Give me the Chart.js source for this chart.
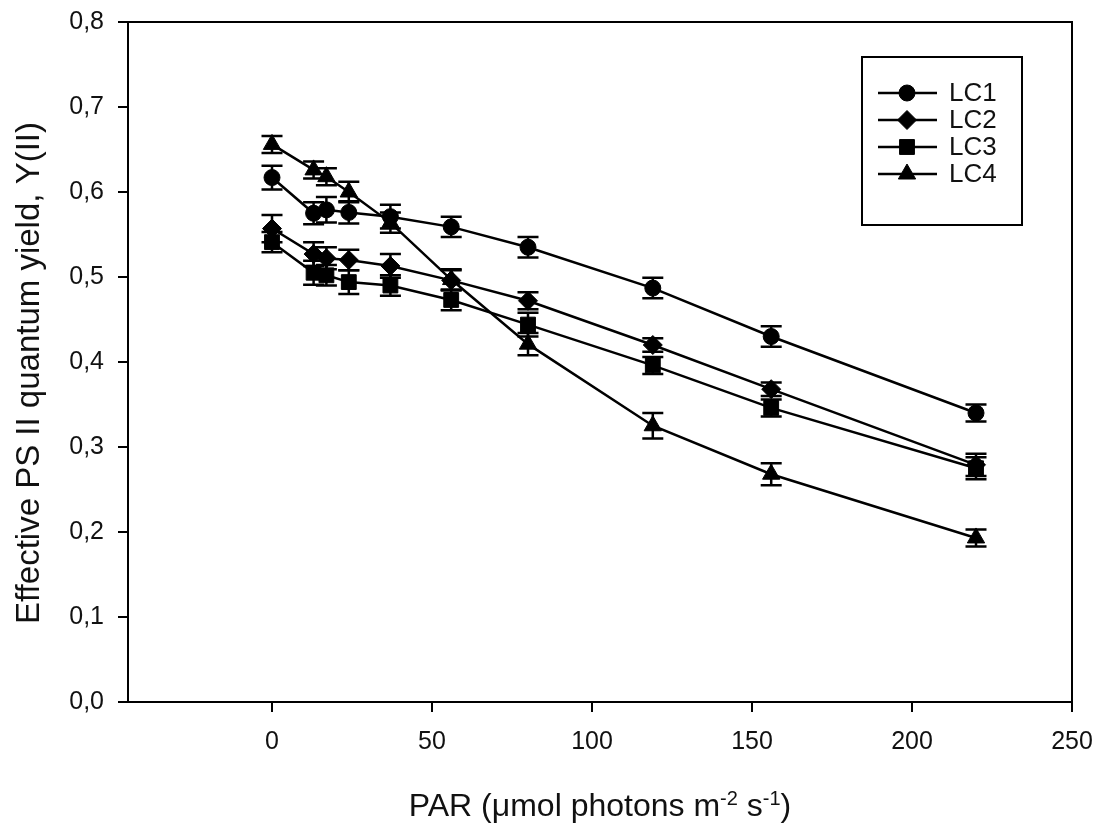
<!DOCTYPE html>
<html>
<head>
<meta charset="utf-8">
<script src="https://cdn.jsdelivr.net/npm/chart.js@4.4.0/dist/chart.umd.min.js"></script>
<style>
  body { margin: 0; background: #fff; }
  canvas { display: block; }
</style>
</head>
<body>
<canvas id="yieldChart" width="1102" height="831"></canvas>
<script>
// PAR steps (µmol photons m-2 s-1)
const par = [0, 13, 17, 24, 37, 56, 80, 119, 156, 220];

// Y(II) per light curve
const lc1 = [0.617, 0.575, 0.579, 0.576, 0.571, 0.559, 0.535, 0.487, 0.430, 0.340];
const lc2 = [0.557, 0.527, 0.522, 0.520, 0.513, 0.496, 0.472, 0.420, 0.368, 0.279];
const lc3 = [0.541, 0.505, 0.502, 0.494, 0.490, 0.473, 0.444, 0.396, 0.346, 0.275];
const lc4 = [0.656, 0.626, 0.618, 0.600, 0.564, 0.497, 0.421, 0.325, 0.268, 0.193];

// error bars (+/-)
const lc1Err = [0.014, 0.013, 0.015, 0.013, 0.014, 0.012, 0.012, 0.012, 0.012, 0.010];
const lc2Err = [0.016, 0.014, 0.013, 0.012, 0.014, 0.012, 0.010, 0.008, 0.008, 0.013];
const lc3Err = [0.012, 0.014, 0.012, 0.014, 0.012, 0.012, 0.014, 0.010, 0.010, 0.013];
const lc4Err = [0.010, 0.010, 0.010, 0.012, 0.012, 0.012, 0.013, 0.015, 0.013, 0.010];

const seriesNames = ['LC1', 'LC2', 'LC3', 'LC4'];
const xTicks = [0, 50, 100, 150, 200, 250];
const yTicks = [0, 0.1, 0.2, 0.3, 0.4, 0.5, 0.6, 0.7, 0.8];

const FONT = '"Liberation Sans", Arial, sans-serif';

function makeSet(label, ys, errs, style, radius) {
    return {
        label: label,
        data: par.map((x, i) => ({ x: x, y: ys[i] })),
        errors: errs,
        showLine: true,
        borderColor: '#000',
        backgroundColor: '#000',
        borderWidth: 2.5,
        pointStyle: style,
        pointRadius: radius,
        pointBackgroundColor: '#000',
        pointBorderColor: '#000',
        pointBorderWidth: 1,
        tension: 0
    };
}

// error bars drawn through the chart scales
const errorBars = {
    id: 'errorBars',
    afterDatasetsDraw(chart) {
        const ctx = chart.ctx;
        const xs = chart.scales.x, ys = chart.scales.y;
        ctx.save();
        ctx.strokeStyle = '#000';
        ctx.lineWidth = 2.5;
        chart.data.datasets.forEach(ds => {
            ds.data.forEach((p, i) => {
                const e = ds.errors[i];
                const px = xs.getPixelForValue(p.x);
                const top = ys.getPixelForValue(p.y + e);
                const bot = ys.getPixelForValue(p.y - e);
                ctx.beginPath();
                ctx.moveTo(px, top); ctx.lineTo(px, bot);
                ctx.moveTo(px - 10.5, top); ctx.lineTo(px + 10.5, top);
                ctx.moveTo(px - 10.5, bot); ctx.lineTo(px + 10.5, bot);
                ctx.stroke();
            });
        });
        ctx.restore();
    }
};

// frame, axis titles and legend box
const decorations = {
    id: 'decorations',
    afterDraw(chart) {
        const ctx = chart.ctx;
        const a = chart.chartArea;
        ctx.save();
        ctx.strokeStyle = '#000';
        ctx.lineWidth = 2;
        ctx.strokeRect(a.left, a.top, a.right - a.left, a.bottom - a.top);

        // y title
        ctx.fillStyle = '#111';
        ctx.save();
        ctx.translate(39, 373);
        ctx.rotate(-Math.PI / 2);
        ctx.font = '33px ' + FONT;
        ctx.textAlign = 'center';
        ctx.textBaseline = 'alphabetic';
        ctx.fillText('Effective PS II quantum yield, Y(II)', 0, 0);
        ctx.restore();

        // x title with superscripts
        const parts = [
            ['PAR (\u03bcmol photons m', false],
            ['-2', true],
            [' s', false],
            ['-1', true],
            [')', false]
        ];
        const big = '32px ' + FONT, small = '20px ' + FONT;
        let total = 0;
        parts.forEach(p => { ctx.font = p[1] ? small : big; total += ctx.measureText(p[0]).width; });
        let x = (a.left + a.right) / 2 - total / 2;
        const base = 816;
        ctx.textAlign = 'left';
        ctx.textBaseline = 'alphabetic';
        parts.forEach(p => {
            ctx.font = p[1] ? small : big;
            ctx.fillText(p[0], x, p[1] ? base - 11 : base);
            x += ctx.measureText(p[0]).width;
        });

        // legend
        const bx = a.right - 210, by = a.top + 35;
        ctx.lineWidth = 2;
        ctx.strokeRect(bx, by, 160, 168);
        ctx.font = '26px ' + FONT;
        ctx.textBaseline = 'middle';
        chart.data.datasets.forEach((ds, i) => {
            const ry = by + 36 + i * 27;
            ctx.strokeStyle = '#000';
            ctx.lineWidth = 2.5;
            ctx.beginPath();
            ctx.moveTo(bx + 16, ry); ctx.lineTo(bx + 75, ry);
            ctx.stroke();
            ctx.fillStyle = '#000';
            ctx.lineWidth = 1;
            Chart.helpers.drawPoint(ctx, { pointStyle: ds.pointStyle, radius: ds.pointRadius, borderWidth: 1 }, bx + 45, ry);
            ctx.fillStyle = '#111';
            ctx.fillText(ds.label, bx + 87, ry + 1);
        });
        ctx.restore();
    }
};

const ctx = document.getElementById('yieldChart').getContext('2d');
const yieldChart = new Chart(ctx, {
    type: 'scatter',
    data: {
        datasets: [
            makeSet(seriesNames[0], lc1, lc1Err, 'circle', 8),
            makeSet(seriesNames[1], lc2, lc2Err, 'rectRot', 9.5),
            makeSet(seriesNames[2], lc3, lc3Err, 'rect', 10.5),
            makeSet(seriesNames[3], lc4, lc4Err, 'triangle', 10)
        ]
    },
    options: {
        responsive: false,
        animation: false,
        layout: { padding: { left: 0, top: 22, right: 30, bottom: 0 } },
        plugins: {
            legend: { display: false },
            tooltip: { enabled: false }
        },
        scales: {
            x: {
                type: 'linear',
                min: -45,
                max: 250,
                afterBuildTicks: s => { s.ticks = xTicks.map(v => ({ value: v })); },
                afterFit: s => { s.height = 129; s.paddingLeft = 0; s.paddingRight = 0; },
                grid: { drawOnChartArea: false, drawTicks: true, tickLength: 10, color: '#000', lineWidth: 2 },
                border: { color: '#000', width: 2 },
                ticks: { color: '#111', font: { family: FONT, size: 25 }, padding: 15, maxRotation: 0 }
            },
            y: {
                type: 'linear',
                min: 0,
                max: 0.8,
                afterBuildTicks: s => { s.ticks = yTicks.map(v => ({ value: v })); },
                afterFit: s => { s.width = 128; s.paddingTop = 0; s.paddingBottom = 0; },
                grid: { drawOnChartArea: false, drawTicks: true, tickLength: 10, color: '#000', lineWidth: 2 },
                border: { color: '#000', width: 2 },
                ticks: {
                    color: '#111',
                    font: { family: FONT, size: 25 },
                    padding: 14,
                    callback: v => v.toFixed(1).replace('.', ',')
                }
            }
        }
    },
    plugins: [errorBars, decorations]
});
</script>
</body>
</html>
